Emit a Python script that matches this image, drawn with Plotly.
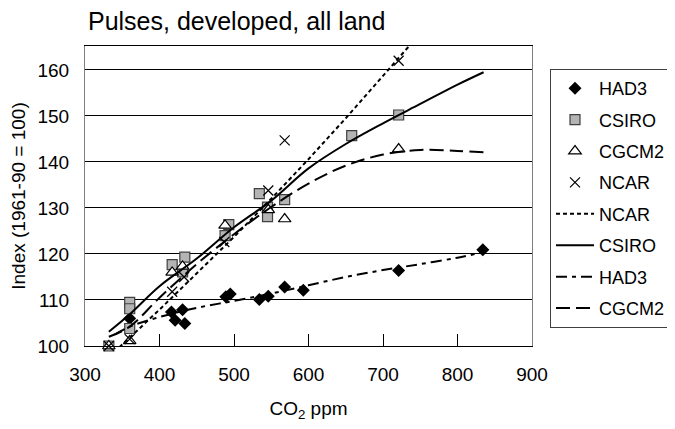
import plotly.graph_objects as go

# Scatter data (CO2 ppm, index)
had3_x = [360, 416, 421, 431, 434, 489, 495, 534, 546, 568, 593, 721, 834]
had3_y = [106.0, 107.4, 105.6, 107.9, 104.9, 110.7, 111.3, 110.1, 110.8, 112.8, 112.1, 116.4, 120.9]

csiro_x = [332, 360, 360, 360, 417, 431, 434, 488, 493, 534, 545, 545, 568, 658, 721]
csiro_y = [100.0, 109.5, 108.1, 103.8, 117.7, 116.1, 119.3, 124.0, 126.4, 133.1, 130.2, 128.1, 131.8, 145.7, 150.2]

cgcm2_x = [332, 360, 417, 431, 488, 546, 568, 721]
cgcm2_y = [100.0, 101.1, 116.0, 117.3, 126.2, 129.6, 127.6, 142.8]

ncar_x = [332, 360, 417, 433, 487, 546, 568, 721]
ncar_y = [100.0, 101.5, 111.8, 115.0, 122.6, 133.8, 144.7, 162.0]

# Trend lines
ncar_tx = [332, 350, 400, 450, 500, 550, 600, 650, 700, 740]
ncar_ty = [97.7, 100.3, 107.9, 115.7, 123.7, 132.0, 140.6, 149.5, 158.6, 166.1]

csiro_tx = [332, 360, 400, 450, 500, 550, 600, 650, 700, 750, 800, 835]
csiro_ty = [103.1, 106.9, 113.0, 119.0, 125.8, 131.6, 138.6, 143.9, 148.4, 152.6, 156.8, 159.5]

had3_tx = [340, 360, 400, 450, 500, 550, 600, 650, 700, 750, 800, 835]
had3_ty = [102.5, 104.2, 106.3, 108.3, 109.8, 111.4, 113.2, 115.0, 116.5, 117.8, 119.2, 120.4]

cgcm2_tx = [332, 360, 400, 450, 500, 550, 600, 650, 700, 750, 800, 835]
cgcm2_ty = [102.0, 104.2, 110.5, 117.8, 124.3, 130.2, 135.3, 139.2, 141.6, 142.6, 142.4, 142.1]

x_ticks = [300, 400, 500, 600, 700, 800, 900]
y_ticks = [100, 110, 120, 130, 140, 150, 160]

fig = go.Figure()

fig.add_trace(go.Scatter(x=had3_x, y=had3_y, mode="markers", name="HAD3", legendgroup="a",
                         marker=dict(symbol="diamond", color="black", size=10, line=dict(width=0)),
                         cliponaxis=False))
fig.add_trace(go.Scatter(x=csiro_x, y=csiro_y, mode="markers", name="CSIRO", legendgroup="b",
                         marker=dict(symbol="square", color="#b4b4b4", size=10, line=dict(color="#404040", width=1.2)),
                         cliponaxis=False))
fig.add_trace(go.Scatter(x=cgcm2_x, y=cgcm2_y, mode="markers", name="CGCM2", legendgroup="c",
                         marker=dict(symbol="triangle-up", color="white", size=11, line=dict(color="black", width=1.2)),
                         cliponaxis=False))
fig.add_trace(go.Scatter(x=ncar_x, y=ncar_y, mode="markers", name="NCAR", legendgroup="d",
                         marker=dict(symbol="x-thin-open", color="black", size=10, line=dict(color="black", width=1.2)),
                         cliponaxis=False))

fig.add_trace(go.Scatter(x=ncar_tx, y=ncar_ty, mode="lines", name="NCAR", legendgroup="e",
                         line=dict(color="black", width=2, dash="4px,3px")))
fig.add_trace(go.Scatter(x=csiro_tx, y=csiro_ty, mode="lines", name="CSIRO", legendgroup="f",
                         line=dict(color="black", width=2, shape="spline")))
fig.add_trace(go.Scatter(x=had3_tx, y=had3_ty, mode="lines", name="HAD3", legendgroup="g",
                         line=dict(color="black", width=2, dash="11px,5px,4px,5px", shape="spline")))
fig.add_trace(go.Scatter(x=cgcm2_tx, y=cgcm2_ty, mode="lines", name="CGCM2", legendgroup="h",
                         line=dict(color="black", width=2, dash="14px,6px", shape="spline")))

fig.update_layout(
    width=667, height=421,
    margin=dict(l=77, r=143, t=38, b=83),
    paper_bgcolor="white", plot_bgcolor="white",
    font=dict(family="Liberation Sans, Arial, sans-serif", size=18, color="black"),
    title=dict(text="Pulses, developed, all land", x=0.0067, xref="paper", xanchor="left",
               y=0.968, yanchor="middle", font=dict(size=25)),
    showlegend=True,
    legend=dict(x=0.8126, y=0.855, xref="container", yref="container",
                xanchor="left", yanchor="top", maxheight=1,
                bordercolor="#404040", borderwidth=1, bgcolor="white",
                tracegroupgap=5, font=dict(size=18), itemwidth=38),
    xaxis=dict(range=[300, 900], tickvals=x_ticks, ticks="inside", ticklen=12,
               tickcolor="black", showgrid=False, zeroline=False, ticklabelstandoff=11,
               tickfont=dict(size=19), automargin=False,
               showline=True, linecolor="black", linewidth=1, mirror=True,
               title=dict(text="CO<sub>2</sub> ppm", standoff=17, font=dict(size=19))),
    yaxis=dict(range=[100, 165.2], tickvals=y_ticks, ticks="", showgrid=True,
               gridcolor="black", gridwidth=1, zeroline=False, ticklabelstandoff=11,
               tickfont=dict(size=19), automargin=False,
               showline=True, linecolor="#808080", linewidth=1, mirror=True,
               title=dict(text="Index (1961-90 = 100)", standoff=8, font=dict(size=19))),
)

fig.write_html("out.html")
